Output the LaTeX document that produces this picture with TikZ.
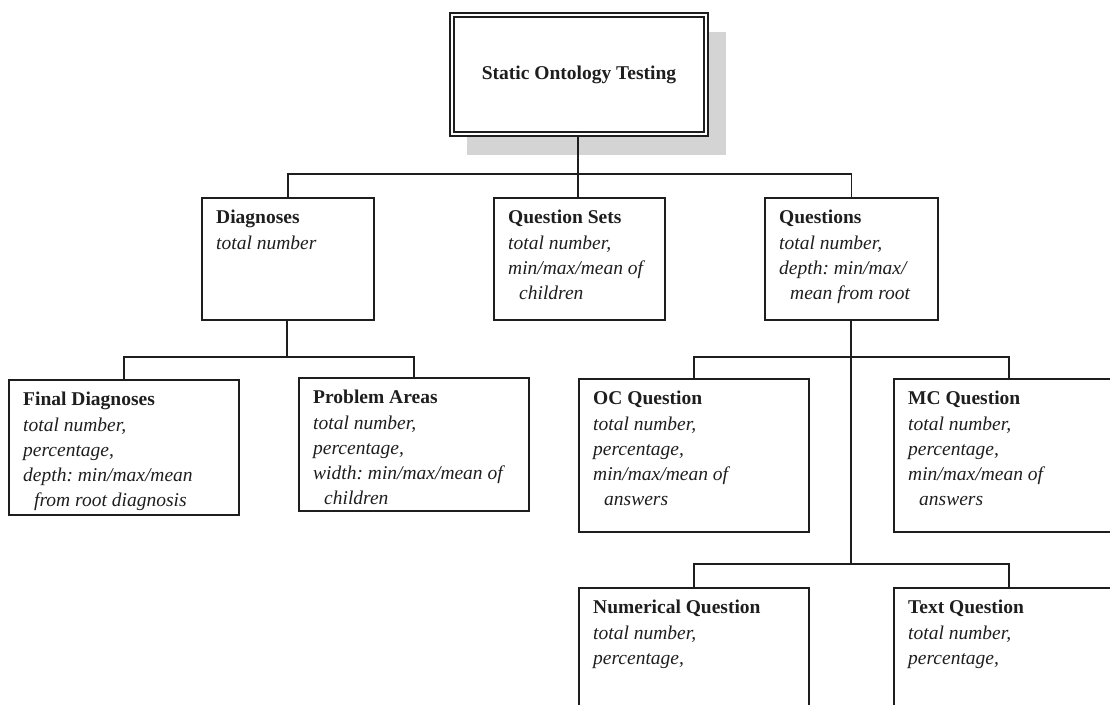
\documentclass[tikz,border=0pt]{standalone}
\usepackage{fontspec}
\setmainfont{Liberation Serif}
\frenchspacing
\definecolor{ink}{RGB}{30,30,30}
\definecolor{shade}{RGB}{212,212,212}
\begin{document}
\begin{tikzpicture}[x=1pt,y=-1pt,
  box/.style={draw=ink, line width=1.6pt, rectangle, inner sep=0pt, anchor=north west},
  wire/.style={draw=ink, line width=1.4pt},
  drop/.style={draw=ink, line width=2.8pt},
  body/.style={anchor=north west, inner sep=0pt, align=left, text=ink,
    font=\fontsize{19.5}{25.3}\selectfont}]
\clip (0,0) rectangle (1110,704);

% root with its shadow and double frame
\node[fill=shade, inner sep=0pt, anchor=north west, minimum width=259pt, minimum height=123pt] (rootshadow) at (467,32) {};
\node[draw=ink, fill=white, line width=1.4pt, double=white, double distance=2.6pt, inner sep=0pt,
      minimum width=254pt, minimum height=119pt,
      font=\fontsize{19.5}{25.5}\selectfont\bfseries, text=ink] (root) at (579,74.5) {\raisebox{-3pt}{Static Ontology Testing}};

% first level
\node[box, minimum width=172pt, minimum height=122pt] (diag) at (201,197) {};
\node[box, minimum width=171pt, minimum height=122pt] (qset) at (493,197) {};
\node[box, minimum width=173pt, minimum height=122pt] (ques) at (764,197) {};

% second level
\node[box, minimum width=230pt, minimum height=135pt] (fdiag) at (8,379) {};
\node[box, minimum width=230pt, minimum height=133pt] (parea) at (298,377) {};
\node[box, minimum width=230pt, minimum height=153pt] (ocq) at (578,378) {};
\node[box, minimum width=230pt, minimum height=153pt] (mcq) at (893,378) {};

% third level
\node[box, minimum width=230pt, minimum height=200pt] (numq) at (578,587) {};
\node[box, minimum width=230pt, minimum height=200pt] (txtq) at (893,587) {};

% box contents
\node[body] (diagtext) at ([shift={(15,13)}]diag.north west)
  {\textbf{Diagnoses}\\\textit{total number}};
\node[body] (qsettext) at ([shift={(15,13)}]qset.north west)
  {\textbf{Question Sets}\\\textit{total number,}\\\textit{min/max/mean of}\\\hspace*{11pt}\textit{children}};
\node[body] (questext) at ([shift={(15,13)}]ques.north west)
  {\textbf{Questions}\\\textit{total number,}\\\textit{depth: min/max/}\\\hspace*{11pt}\textit{mean from root}};
\node[body] (fdiagtext) at ([shift={(15,13)}]fdiag.north west)
  {\textbf{Final Diagnoses}\\\textit{total number,}\\\textit{percentage,}\\\textit{depth: min/max/mean}\\\hspace*{11pt}\textit{from root diagnosis}};
\node[body] (pareatext) at ([shift={(15,13)}]parea.north west)
  {\textbf{Problem Areas}\\\textit{total number,}\\\textit{percentage,}\\\textit{width: min/max/mean of}\\\hspace*{11pt}\textit{children}};
\node[body] (ocqtext) at ([shift={(15,13)}]ocq.north west)
  {\textbf{OC Question}\\\textit{total number,}\\\textit{percentage,}\\\textit{min/max/mean of}\\\hspace*{11pt}\textit{answers}};
\node[body] (mcqtext) at ([shift={(15,13)}]mcq.north west)
  {\textbf{MC Question}\\\textit{total number,}\\\textit{percentage,}\\\textit{min/max/mean of}\\\hspace*{11pt}\textit{answers}};
\node[body] (numqtext) at ([shift={(15,13)}]numq.north west)
  {\textbf{Numerical Question}\\\textit{total number,}\\\textit{percentage,}};
\node[body] (txtqtext) at ([shift={(15,13)}]txtq.north west)
  {\textbf{Text Question}\\\textit{total number,}\\\textit{percentage,}};

% junction points of the tree
\coordinate (j0) at (578,174);
\coordinate (j1) at (287,357);
\coordinate (j2) at (851,357);
\coordinate (j3) at (851,564);

% connectors
\draw[drop] (root.south -| j0) -- (j0);
\draw[wire] (diag.north) |- (j0) -| (ques.north);
\draw[wire] (j0) -- (qset.north -| j0);

\draw[drop] (diag.south -| j1) -- (j1);
\draw[wire] (fdiag.north) |- (j1) -| (parea.north);

\draw[drop] (ques.south -| j2) -- (j3);
\draw[wire] (ocq.north) |- (j2) -| (mcq.north);
\draw[wire] (numq.north) |- (j3) -| (txtq.north);
\end{tikzpicture}
\end{document}
